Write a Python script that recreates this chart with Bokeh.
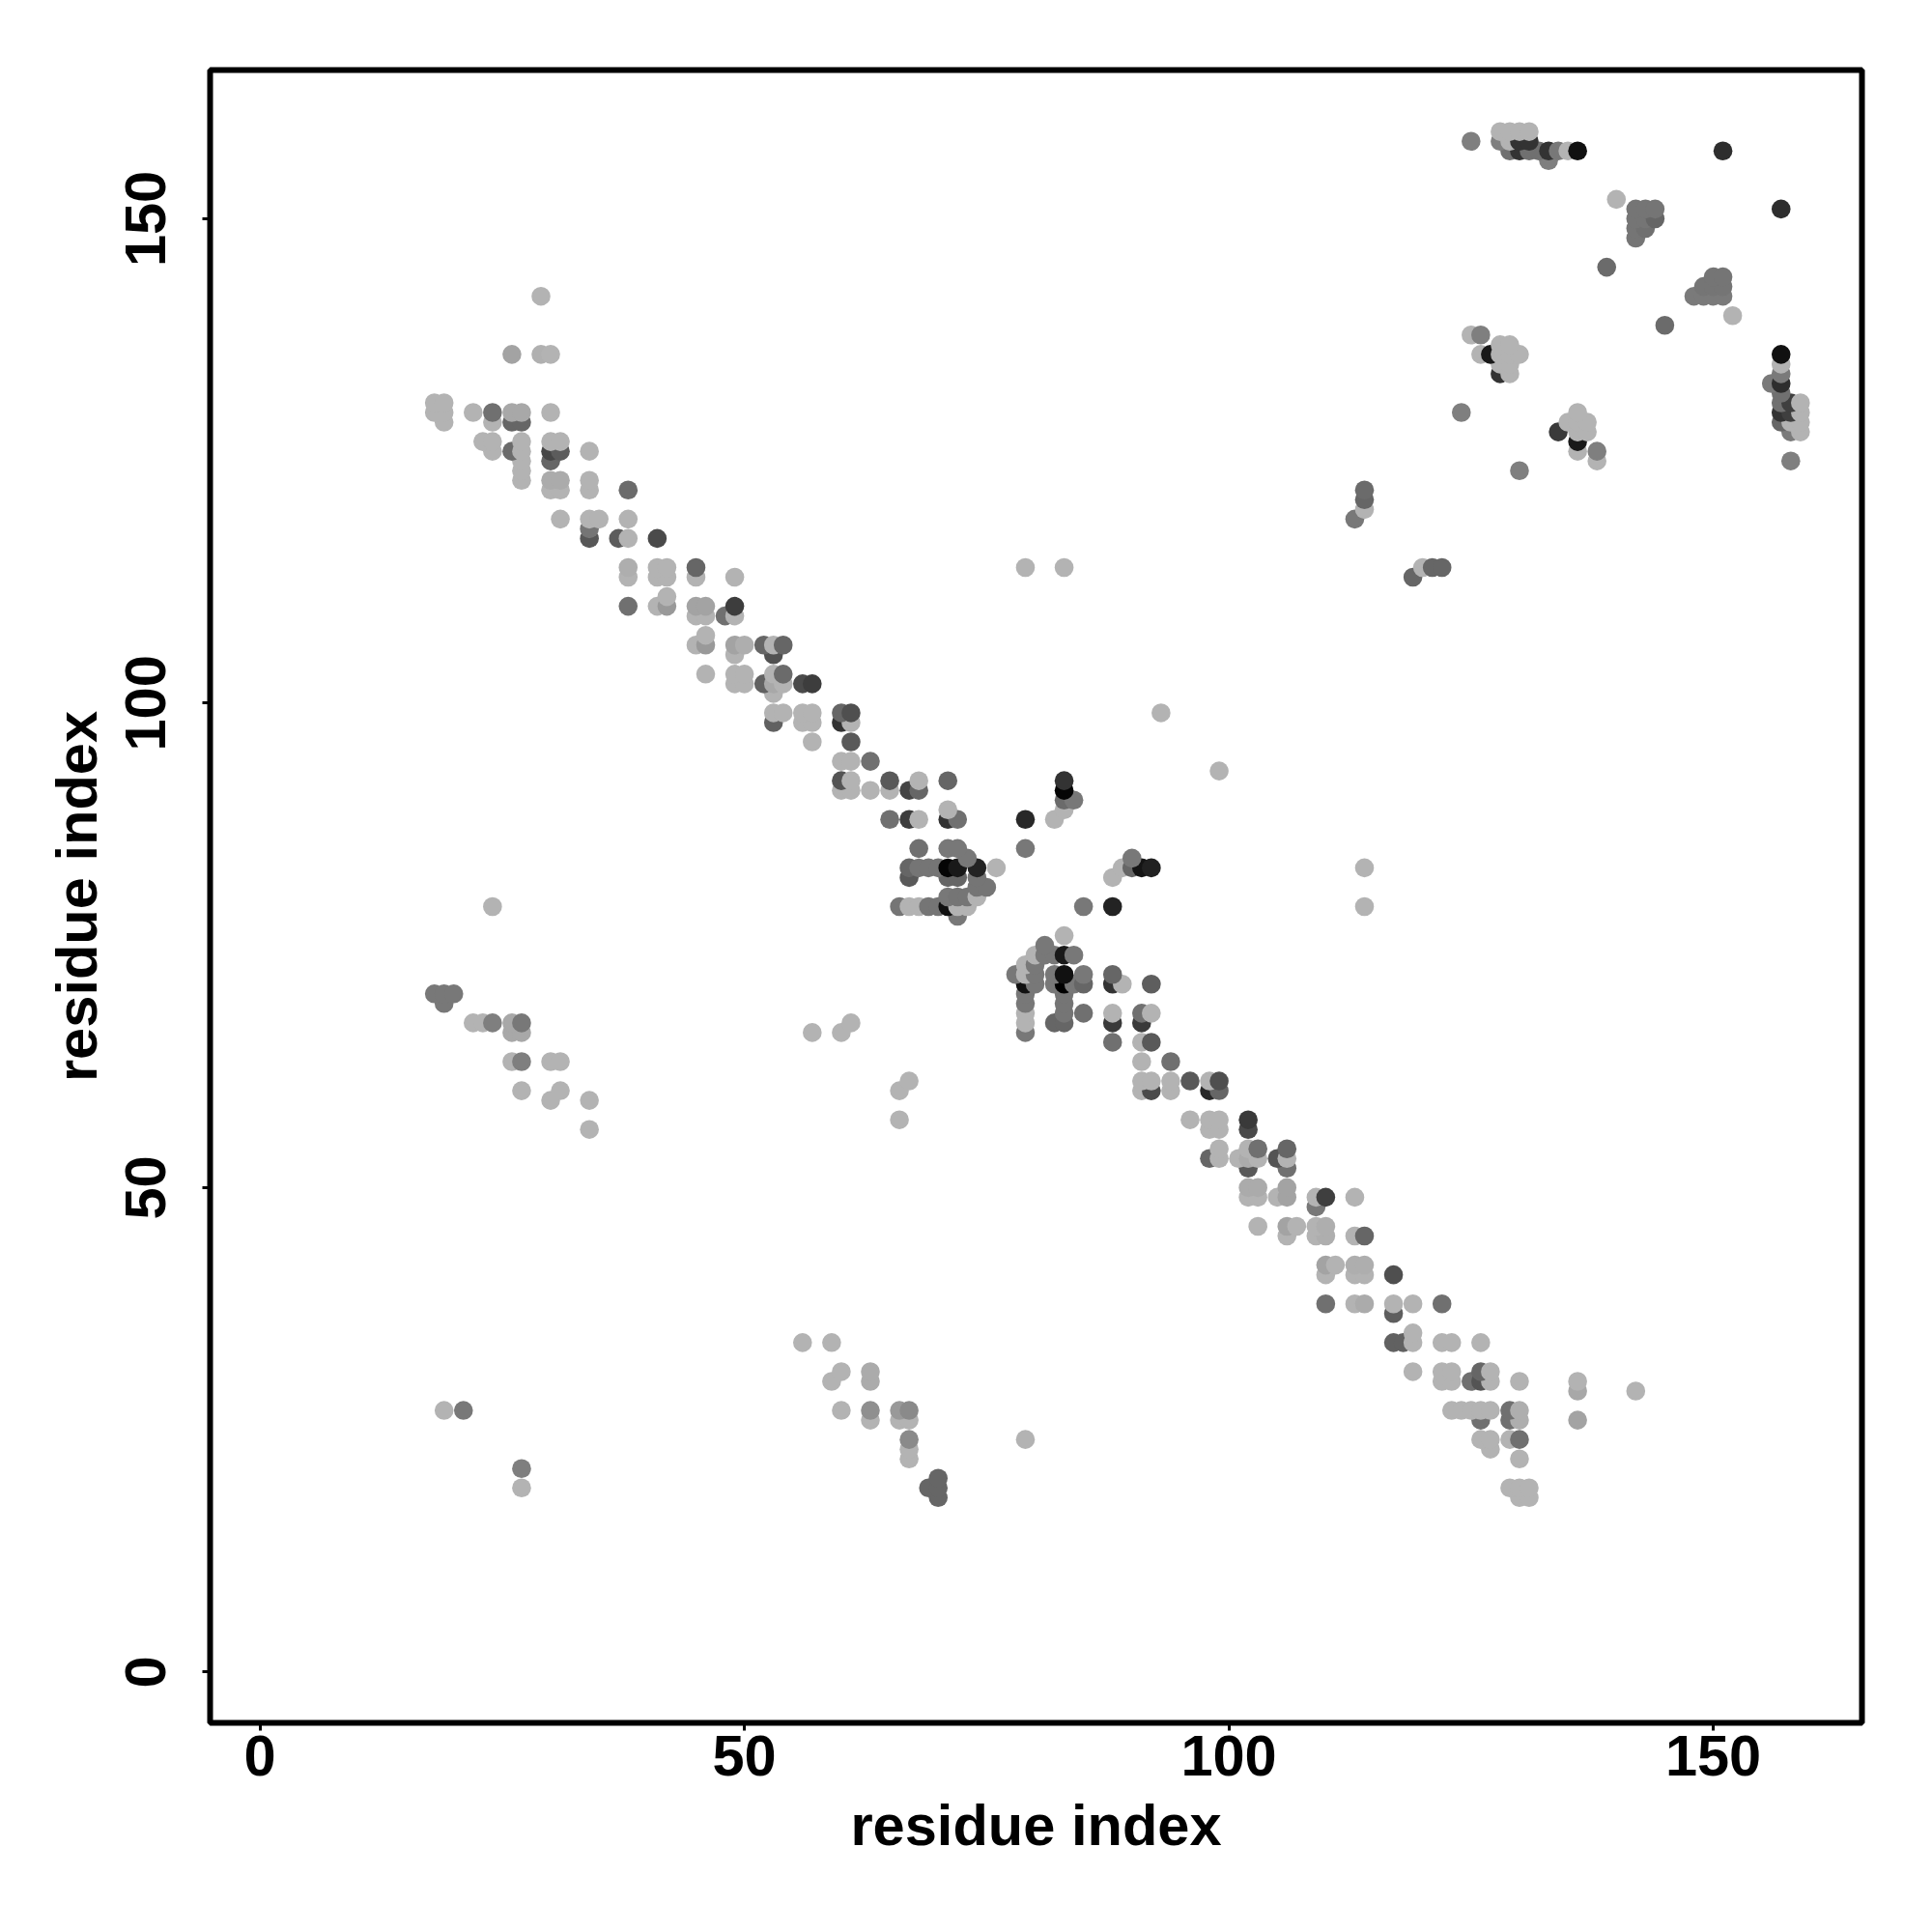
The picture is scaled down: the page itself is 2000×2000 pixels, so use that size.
from bokeh.plotting import figure
from bokeh.models import ColumnDataSource, FixedTicker, LinearColorMapper, Range1d
from bokeh.palettes import Greys256
from bokeh.embed import file_html
from bokeh.resources import INLINE

# contacts: (residue i, residue j, score); score 0 = white, 1 = black
upper_band = [
 (29,142,.30),(26,136,.36),(29,136,.31),(30,136,.30),
 (18,131,.30),(19,131,.30),(18,130,.30),(19,130,.30),(22,130,.30),(24,130,.56),(26,130,.34),(27,130,.34),(30,130,.30),
 (19,129,.30),(24,129,.30),(26,129,.60),(27,129,.60),
 (23,127,.30),(24,127,.30),(27,127,.30),(30,127,.30),(31,127,.30),
 (24,126,.30),(26,126,.58),(27,126,.30),(30,126,.72),(31,126,.64),(34,126,.30),
 (27,125,.30),(30,125,.60),(27,124,.30),
 (27,123,.30),(30,123,.33),(31,123,.33),(34,123,.30),
 (30,122,.30),(31,122,.30),(34,122,.30),(38,122,.58),
 (31,119,.30),(34,119,.30),(35,119,.30),(38,119,.30),
 (34,118,.54),(34,117,.66),(37,117,.64),(38,117,.30),(41,117,.71),
 (38,114,.32),(41,114,.30),(42,114,.30),(45,114,.60),
 (38,113,.30),(41,113,.30),(42,113,.30),(45,113,.30),(49,113,.30),
 (42,111,.30),(38,110,.56),(41,110,.30),(42,110,.40),(45,110,.36),(46,110,.36),(49,110,.76),
 (45,109,.30),(46,109,.30),(48,109,.56),(49,109,.30),
 (46,107,.30),(45,106,.30),(46,106,.40),(49,106,.36),(50,106,.32),(52,106,.60),(53,106,.30),(54,106,.60),
 (49,105,.30),(53,105,.68),
 (46,103,.30),(49,103,.30),(50,103,.30),(53,103,.30),(54,103,.58),
 (49,102,.30),(50,102,.30),(52,102,.62),(53,102,.34),(54,102,.30),(56,102,.71),(57,102,.76),
 (53,101,.30),
 (53,99,.30),(54,99,.30),(56,99,.30),(57,99,.30),(60,99,.60),(61,99,.69),
 (53,98,.62),(56,98,.30),(57,98,.30),(60,98,.80),(61,98,.30),
 (57,96,.30),(61,96,.65),
 (60,94,.30),(61,94,.30),(63,94,.56),
 (60,92,.67),(61,92,.30),(65,92,.65),(68,92,.30),(71,92,.60),
 (60,91,.30),(61,91,.30),(63,91,.30),(65,91,.30),(67,91,.73),(68,91,.60),
 (71,89,.30),(65,88,.56),(67,88,.76),(68,88,.30),(71,88,.80),(72,88,.56),
 (68,85,.56),(71,85,.53),(72,85,.53),(73,84,.53),
 (67,83,.60),(68,83,.54),(69,83,.54),(70,83,.54),(71,83,.98),(72,83,.90),(74,83,.86),(76,83,.30),
 (67,82,.65),(71,82,.60),(72,82,.60),(74,82,.54),
 (74,81,.54),(75,81,.54),
 (71,80,.53),(72,80,.54),(73,80,.54),(74,80,.30),
 (66,79,.54),(67,79,.30),(68,79,.30),(69,79,.54),(70,79,.54),(71,79,.93),(72,79,.30),(73,79,.30),
 (72,78,.53),
]

center_arm = [
 (83,92,.80),(83,91,.98),(83,90,.58),(84,90,.53),(83,89,.30),(82,88,.30),(79,88,.84),
 (79,85,.53),(90,84,.53),(89,83,.30),(90,83,.60),(91,83,.92),(92,83,.87),(88,82,.30),
 (85,79,.53),(88,79,.86),
]

lower_band = [
 (83,76,.30),(81,75,.53),(80,74,.30),(81,74,.53),(82,74,.53),(83,74,.90),(84,74,.53),
 (79,73,.30),(80,73,.53),
 (78,72,.53),(79,72,.30),(80,72,.53),(82,72,.53),(83,72,.93),(85,72,.53),(88,72,.60),
 (79,71,.93),(80,71,.53),(82,71,.53),(83,71,1.0),(84,71,.53),(85,71,.60),(88,71,.80),(89,71,.30),(92,71,.63),
 (79,70,.53),(83,70,.54),(79,69,.53),(83,69,.54),
 (79,68,.30),(83,68,.54),(85,68,.56),(88,68,.30),(91,68,.56),(92,68,.30),
 (79,67,.30),(82,67,.60),(83,67,.60),(88,67,.77),(91,67,.77),
 (79,66,.53),(88,65,.56),(91,65,.30),(92,65,.65),
 (91,63,.30),(94,63,.56),
 (91,61,.30),(92,61,.30),(94,61,.30),(96,61,.65),(98,61,.30),(99,61,.69),
 (91,60,.30),(92,60,.71),(94,60,.30),(98,60,.84),(99,60,.60),
 (96,57,.30),(98,57,.30),(99,57,.30),(102,57,.77),
 (98,56,.30),(99,56,.30),(102,56,.71),
 (99,54,.30),(102,54,.30),(103,54,.56),(106,54,.60),
 (98,53,.60),(99,53,.30),(101,53,.30),(102,53,.33),(103,53,.30),(105,53,.67),(106,53,.30),
 (102,52,.65),(106,52,.56),
 (102,50,.33),(103,50,.33),(106,50,.36),
 (102,49,.30),(103,49,.30),(105,49,.30),(106,49,.36),(109,49,.30),(110,49,.75),(113,49,.30),
 (109,48,.53),
 (103,46,.30),(106,46,.36),(107,46,.30),(109,46,.30),(110,46,.32),
 (106,45,.30),(109,45,.30),(110,45,.32),(113,45,.30),(114,45,.60),
 (110,42,.36),(111,42,.30),(113,42,.32),(114,42,.32),(110,41,.30),(113,41,.30),(114,41,.30),(117,41,.69),
 (110,38,.56),(113,38,.30),(114,38,.33),(117,38,.30),(119,38,.30),(122,38,.56),(117,37,.63),
 (119,35,.30),
 (117,34,.62),(118,34,.62),(119,34,.30),(122,34,.30),(123,34,.30),(126,34,.30),
 (119,31,.30),(122,31,.30),(123,31,.30),(126,31,.60),(127,31,.30),
 (122,30,.30),(123,30,.30),(125,30,.56),(126,30,.67),(127,30,.30),(130,30,.30),(136,30,.30),
 (136,29,.34),(142,29,.30),
 (123,27,.30),(124,27,.30),(125,27,.30),(126,27,.30),(127,27,.30),(129,27,.56),(130,27,.32),
 (126,26,.56),(129,26,.56),(130,26,.32),(136,26,.36),
 (126,24,.30),(127,24,.30),(129,24,.30),(130,24,.56),(127,23,.30),(130,22,.30),
 (129,19,.30),(130,19,.30),(131,19,.30),(130,18,.30),(131,18,.30),
]

upper_right = [
 (128,159,.30),(129,159,.30),(130,159,.30),(131,159,.30),
 (125,158,.50),(128,158,.50),(129,158,.30),(130,158,.80),(131,158,.80),
 (129,157,.56),(130,157,.80),(131,157,.56),(132,157,.56),(133,157,.80),(134,157,.53),(135,157,.30),(136,157,.93),(151,157,.82),
 (133,156,.50),
 (140,152,.30),(157,151,.82),
 (142,151,.54),(143,151,.54),(144,151,.54),(142,150,.54),(143,150,.54),(144,150,.60),(142,149,.54),(143,149,.56),(142,148,.54),
 (139,145,.58),
 (150,144,.54),(151,144,.54),(149,143,.54),(150,143,.54),(151,143,.54),(148,142,.52),(149,142,.52),(150,142,.52),(151,142,.52),
 (152,140,.30),(145,139,.58),
 (125,138,.30),(126,138,.50),(128,137,.30),(129,137,.30),
 (126,136,.30),(127,136,.90),(128,136,.30),(129,136,.30),(130,136,.30),(128,135,.30),(129,135,.30),
 (128,134,.80),(129,134,.30),
 (157,136,.93),(157,135,.30),(157,134,.52),(156,133,.52),(157,133,.82),(157,132,.56),(157,131,.56),(158,131,.75),(159,131,.30),
 (124,130,.50),(136,130,.30),(157,130,.80),(158,130,.75),(159,130,.30),
 (135,129,.30),(136,129,.30),(137,129,.30),(157,129,.60),(158,129,.30),(159,129,.30),
 (134,128,.77),(136,128,.30),(137,128,.30),(158,128,.52),(159,128,.30),
 (136,127,.90),(136,126,.30),(138,126,.50),(138,125,.30),(158,125,.50),(130,124,.50),
 (114,122,.58),(114,121,.60),(114,120,.30),(113,119,.53),
 (120,114,.30),(121,114,.60),(122,114,.60),(119,113,.60),
]

isolated = [
 (79,114,.30),(83,114,.30),(93,99,.30),(99,93,.30),(114,83,.30),(114,79,.30),(24,79,.30),
 (79,24,.30),
]

lower_left = [
 (18,70,.53),(19,70,.53),(20,70,.53),(19,69,.53),
 (22,67,.30),(23,67,.30),(24,67,.50),(26,67,.34),(27,67,.53),(26,66,.34),(27,66,.34),
 (26,63,.30),(27,63,.50),(30,63,.30),(31,63,.30),(27,60,.30),(31,60,.30),(30,59,.30),(34,59,.30),(34,56,.30),
 (57,66,.30),(60,66,.30),(61,67,.30),(66,60,.30),(67,61,.30),(66,57,.30),
 (56,34,.30),(59,34,.30),(60,31,.30),(59,30,.30),(63,31,.33),(63,30,.33),(60,27,.30),(63,27,.44),(63,26,.30),
 (66,27,.40),(67,27,.46),(66,26,.30),(67,26,.30),(67,24,.46),(67,23,.30),(67,22,.30),
 (70,20,.60),(69,19,.60),(70,19,.60),(70,18,.60),
 (19,27,.30),(21,27,.53),(27,21,.50),(27,19,.30),
]

x_ticks = [0, 50, 100, 150]
y_ticks = [0, 50, 100, 150]
x_label = "residue index"
y_label = "residue index"

contacts = sorted(upper_band + center_arm + lower_band + upper_right + isolated + lower_left,
                  key=lambda c: (c[1], c[0]))
source = ColumnDataSource(dict(
    i=[c[0] for c in contacts],
    j=[c[1] for c in contacts],
    score=[c[2] for c in contacts],
))

p = figure(
    output_backend="svg", toolbar_location=None,
    frame_width=1710, frame_height=1711,
    x_range=Range1d(-5.15, 165.35), y_range=Range1d(-5.25, 165.35),
    min_border_left=217, min_border_top=72, min_border_right=50, min_border_bottom=180,
)
p.background_fill_color = "white"
p.border_fill_color = "white"

mapper = LinearColorMapper(palette=list(reversed(Greys256)), low=0, high=1)
p.scatter("i", "j", source=source, marker="circle", size=19.6,
          fill_color={"field": "score", "transform": mapper}, line_color=None)

p.grid.visible = False
p.outline_line_color = "black"
p.outline_line_width = 6
p.outline_line_alpha = 1

for ax, ticks, lab in ((p.xaxis[0], x_ticks, x_label), (p.yaxis[0], y_ticks, y_label)):
    ax.ticker = FixedTicker(ticks=ticks)
    ax.axis_label = lab
    ax.axis_label_text_font = "Liberation Sans"
    ax.axis_label_text_font_style = "bold"
    ax.axis_label_text_font_size = "59.6px"
    ax.axis_label_text_color = "black"
    ax.major_label_text_font = "Liberation Sans"
    ax.major_label_text_font_style = "bold"
    ax.major_label_text_font_size = "59.5px"
    ax.major_label_text_color = "black"
    ax.axis_line_color = None
    ax.minor_tick_line_color = None
    ax.major_tick_line_color = "black"
    ax.major_tick_line_width = 3
    ax.major_tick_in = 0
    ax.major_tick_out = 8

p.xaxis[0].major_label_standoff = 5
p.xaxis[0].axis_label_standoff = 15
p.yaxis[0].major_label_orientation = "vertical"
p.yaxis[0].major_label_standoff = 38
p.yaxis[0].axis_label_standoff = 15

open("out.html", "w").write(file_html(p, INLINE))
